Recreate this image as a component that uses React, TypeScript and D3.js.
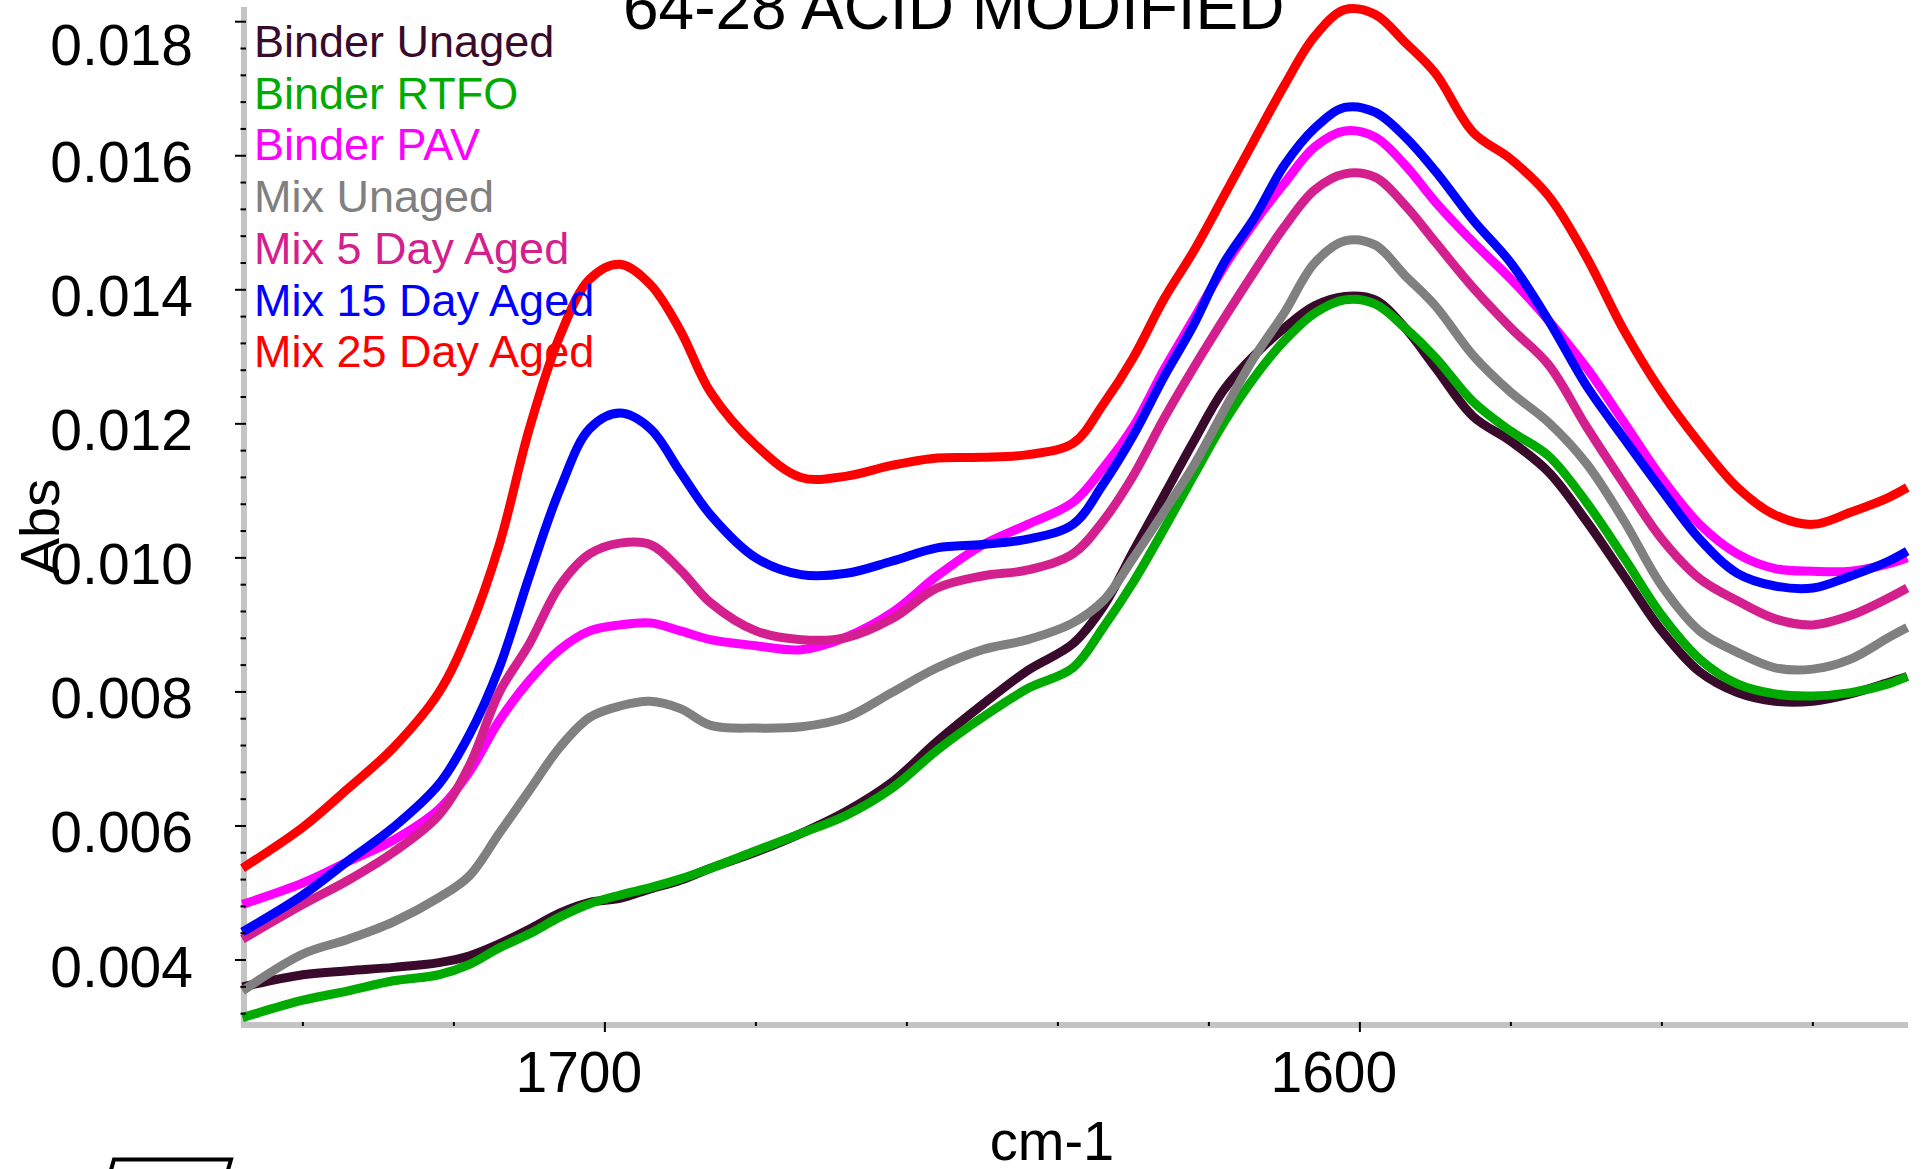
import React, { useEffect } from "react";
import * as d3 from "d3";

const W = 1923;
const H = 1169;

const wavenumbers = [1748,1740,1734,1728,1722,1718,1714,1710,1706,1702,1698,1694,1690,1686,1680,1674,1668,1662,1656,1650,1644,1638,1634,1630,1626,1622,1618,1614,1610,1606,1602,1598,1594,1590,1585,1580,1575,1570,1565,1560,1555,1550,1545,1540,1535,1530,1527.5];

const binderUnaged = [0.00360,0.00378,0.00384,0.00389,0.00396,0.00406,0.00424,0.00446,0.00470,0.00486,0.00492,0.00506,0.00519,0.00537,0.00561,0.00589,0.00622,0.00665,0.00726,0.00781,0.00832,0.00872,0.00927,0.01010,0.01092,0.01174,0.01251,0.01302,0.01343,0.01376,0.01390,0.01385,0.01343,0.01284,0.01211,0.01174,0.01128,0.01055,0.00973,0.00891,0.00830,0.00799,0.00786,0.00786,0.00797,0.00814,0.00823];
const binderRTFO = [0.00314,0.00340,0.00354,0.00369,0.00378,0.00393,0.00418,0.00439,0.00464,0.00484,0.00497,0.00508,0.00521,0.00537,0.00563,0.00589,0.00616,0.00656,0.00713,0.00762,0.00805,0.00836,0.00896,0.00964,0.01042,0.01123,0.01202,0.01269,0.01324,0.01365,0.01385,0.01379,0.01343,0.01299,0.01233,0.01189,0.01152,0.01083,0.01000,0.00914,0.00849,0.00812,0.00797,0.00794,0.00799,0.00812,0.00823];
const binderPAV = [0.00483,0.00515,0.00547,0.00579,0.00625,0.00680,0.00757,0.00817,0.00863,0.00891,0.00900,0.00903,0.00891,0.00878,0.00869,0.00863,0.00882,0.00918,0.00973,0.01019,0.01050,0.01083,0.01134,0.01196,0.01280,0.01357,0.01434,0.01500,0.01559,0.01613,0.01637,0.01628,0.01586,0.01531,0.01471,0.01416,0.01354,0.01284,0.01202,0.01119,0.01050,0.01006,0.00984,0.00980,0.00980,0.00991,0.01000];
const mixUnaged = [0.00354,0.00409,0.00431,0.00457,0.00493,0.00525,0.00589,0.00653,0.00717,0.00762,0.00779,0.00786,0.00775,0.00750,0.00746,0.00748,0.00762,0.00799,0.00836,0.00863,0.00878,0.00903,0.00936,0.01000,0.01068,0.01138,0.01220,0.01299,0.01366,0.01440,0.01473,0.01467,0.01421,0.01376,0.01302,0.01247,0.01202,0.01141,0.01055,0.00958,0.00891,0.00859,0.00836,0.00834,0.00849,0.00881,0.00896];
const mix5Day = [0.00431,0.00483,0.00519,0.00561,0.00616,0.00689,0.00799,0.00872,0.00958,0.01006,0.01022,0.01020,0.00982,0.00933,0.00891,0.00878,0.00881,0.00909,0.00955,0.00973,0.00982,0.01006,0.01055,0.01123,0.01207,0.01284,0.01357,0.01427,0.01494,0.01549,0.01573,0.01568,0.01526,0.01471,0.01403,0.01343,0.01288,0.01196,0.01110,0.01028,0.00969,0.00936,0.00909,0.00900,0.00914,0.00940,0.00955];
const mix15Day = [0.00442,0.00497,0.00548,0.00598,0.00662,0.00735,0.00836,0.00973,0.01101,0.01193,0.01216,0.01193,0.01128,0.01064,0.01000,0.00975,0.00977,0.00995,0.01015,0.01020,0.01028,0.01050,0.01110,0.01183,0.01269,0.01348,0.01440,0.01507,0.01586,0.01641,0.01672,0.01665,0.01628,0.01577,0.01504,0.01440,0.01354,0.01257,0.01178,0.01101,0.01028,0.00977,0.00958,0.00955,0.00973,0.00995,0.01010];
const mix25Day = [0.00537,0.00598,0.00656,0.00717,0.00799,0.00891,0.01019,0.01193,0.01330,0.01416,0.01438,0.01408,0.01339,0.01247,0.01168,0.01120,0.01122,0.01138,0.01149,0.01150,0.01154,0.01171,0.01229,0.01299,0.01385,0.01458,0.01540,0.01623,0.01705,0.01778,0.01818,0.01811,0.01769,0.01723,0.01635,0.01595,0.01540,0.01449,0.01339,0.01247,0.01171,0.01105,0.01064,0.01050,0.01068,0.01090,0.01105];

const seriesNames = ["Binder Unaged","Binder RTFO","Binder PAV","Mix Unaged","Mix 5 Day Aged","Mix 15 Day Aged","Mix 25 Day Aged"];
const seriesColors = ["#3a0a2c","#00aa00","#ff00ff","#808080","#d4208f","#0000ff","#ff0000"];
const seriesValues = [binderUnaged,binderRTFO,binderPAV,mixUnaged,mix5Day,mix15Day,mix25Day];

const yMajorTicks = [0.004,0.006,0.008,0.010,0.012,0.014,0.016,0.018];
const yTickLabels = ["0.004","0.006","0.008","0.010","0.012","0.014","0.016","0.018"];
const xMajorTicks = [1700,1600];
const xTickLabels = ["1700","1600"];
const xMinorTicks = [1740,1720,1700,1680,1660,1640,1620,1600,1580,1560,1540];

const titleText = "64-28 ACID MODIFIED";
const xAxisTitle = "cm-1";
const yAxisTitle = "Abs";

const FONT = "'Liberation Sans', Arial, Helvetica, sans-serif";

export default function App() {
  useEffect(() => {
    document.body.style.margin = "0";
    document.body.style.overflow = "hidden";
  }, []);

  const x = d3.scaleLinear().domain([1747.8, 1527.4]).range([244, 1908]);
  const y = d3.scaleLinear().domain([0.004, 0.018]).range([960, 21.7]);

  const axisX = 244; // y axis band centre
  const axisY = 1025; // x axis band centre
  const axisTop = 7;

  const line = d3
    .line<[number, number]>()
    .x((d) => x(d[0]))
    .y((d) => y(d[1]))
    .curve(d3.curveCatmullRom.alpha(0.5));

  const yMinor = d3.range(0.0032, 0.01841, 0.0004).filter(
    (v) => !yMajorTicks.some((m) => Math.abs(m - v) < 1e-7) && y(v) > axisTop && y(v) < axisY
  );

  const legendX = 254;
  const legendY0 = 57;
  const legendStep = 51.7;

  return (
    <svg
      width={W}
      height={H}
      style={{ position: "absolute", left: 0, top: 0, background: "#fff" }}
      fontFamily={FONT}
    >
      <rect x={0} y={0} width={W} height={H} fill="#ffffff" />
      {/* title (cut at top, as in the reference) */}
      <text x={623} y={29} fontSize={64} fill="#000">{titleText}</text>

      {/* axis bands */}
      <line x1={axisX} x2={axisX} y1={axisTop} y2={axisY + 3} stroke="#c4c4c4" strokeWidth={6} />
      <line x1={axisX - 3} x2={1908} y1={axisY} y2={axisY} stroke="#c4c4c4" strokeWidth={6} />

      {/* series */}
      <g>
        {seriesValues.map((vals, i) => (
          <path
            key={seriesNames[i]}
            d={line(wavenumbers.map((w, j) => [w, vals[j]] as [number, number])) || ""}
            fill="none"
            stroke={seriesColors[i]}
            strokeWidth={9}
            strokeLinejoin="round"
            strokeLinecap="butt"
          />
        ))}
      </g>

      {/* y ticks */}
      {yMajorTicks.map((t) => (
        <line key={"ym" + t} x1={235} x2={246} y1={y(t)} y2={y(t)} stroke="#000" strokeWidth={2} />
      ))}
      {yMinor.map((t) => (
        <line key={"yn" + t} x1={240.5} x2={246} y1={y(t)} y2={y(t)} stroke="#000" strokeWidth={2} />
      ))}
      {yMajorTicks.map((t, i) => (
        <text
          key={"yl" + t}
          x={193}
          y={Math.max(y(t) + 26.5, 65)}
          fontSize={57}
          textAnchor="end"
          fill="#000"
        >
          {yTickLabels[i]}
        </text>
      ))}

      {/* x ticks */}
      {xMinorTicks.filter((t) => !xMajorTicks.includes(t)).map((t) => (
        <line key={"xn" + t} x1={x(t)} x2={x(t)} y1={axisY - 3} y2={axisY + 1} stroke="#000" strokeWidth={2} />
      ))}
      {xMajorTicks.map((t) => (
        <line key={"xm" + t} x1={x(t)} x2={x(t)} y1={axisY - 3} y2={axisY + 7} stroke="#000" strokeWidth={2} />
      ))}
      {xMajorTicks.map((t, i) => (
        <text key={"xl" + t} x={x(t) - 26} y={1092} fontSize={57} textAnchor="middle" fill="#000">
          {xTickLabels[i]}
        </text>
      ))}

      {/* axis titles */}
      <text x={1052} y={1160} fontSize={56} textAnchor="middle" fill="#000">{xAxisTitle}</text>
      <text transform={`translate(59,527) rotate(-90)`} fontSize={56} textAnchor="middle" fill="#000">
        {yAxisTitle}
      </text>

      {/* legend */}
      {seriesNames.map((n, i) => (
        <text key={"lg" + n} x={legendX} y={legendY0 + i * legendStep} fontSize={45} fill={seriesColors[i]}>
          {n}
        </text>
      ))}

      {/* partial frame at bottom left */}
      <path d="M111,1170 L114,1159.5 L231,1159.5 L228,1170" fill="none" stroke="#000" strokeWidth={4} />
    </svg>
  );
}
